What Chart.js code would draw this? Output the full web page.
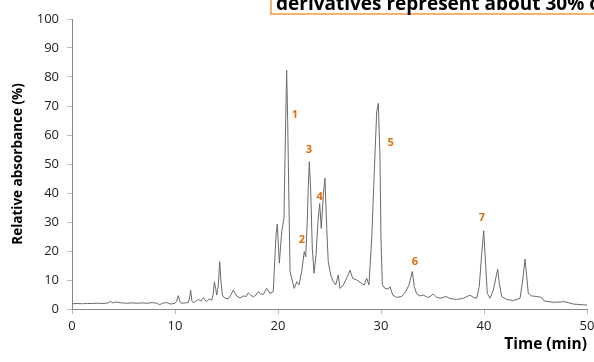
<!DOCTYPE html>
<html>
<head>
<meta charset="utf-8">
<script src="https://cdn.jsdelivr.net/npm/chart.js@4/dist/chart.umd.min.js"></script>
<style>
  html, body { margin: 0; padding: 0; background: #fff; }
  #wrap { width: 594px; height: 362px; position: relative; }
</style>
</head>
<body>
<div id="wrap"><canvas id="myChart"></canvas></div>
<script>
// Chromatogram data (time in min, relative absorbance in %)

const times = [
  0, 0.5, 1, 1.5, 2, 2.5, 3, 3.5, 3.75, 3.9, 4.3, 4.8, 5.3, 5.8, 6.3, 6.8,
  7.3, 7.8, 8.2, 8.5, 8.8, 9.2, 9.6, 10, 10.15, 10.32, 10.5, 10.65, 11, 11.3,
  11.45, 11.52, 11.65, 11.78, 12, 12.26, 12.52, 12.75, 13.07, 13.33, 13.56,
  13.7, 13.82, 13.95, 14.05, 14.2, 14.34, 14.45, 14.6, 14.85, 15.18, 15.45,
  15.66, 15.99, 16.31, 16.63, 16.9, 17.12, 17.35, 17.6, 17.85, 18.09, 18.3,
  18.57, 18.9, 19.22, 19.54, 19.71, 19.82, 19.93, 20.13, 20.36, 20.58, 20.72,
  20.84, 20.94, 21.04, 21.17, 21.33, 21.58, 21.82, 22.04, 22.3, 22.55, 22.69,
  22.84, 22.94, 23.04, 23.17, 23.33, 23.5, 23.69, 23.88, 24.05, 24.2, 24.4,
  24.56, 24.73, 24.88, 25.12, 25.37, 25.6, 25.85, 26.02, 26.34, 26.73, 26.99,
  27.25, 27.64, 28.13, 28.38, 28.61, 28.83, 29.1, 29.35, 29.58, 29.74, 29.9,
  30.0, 30.13, 30.39, 30.71, 30.87, 31.14, 31.52, 32.01, 32.4, 32.72, 33.04,
  33.23, 33.47, 33.79, 34.11, 34.5, 34.76, 35.08, 35.41, 35.8, 36.31, 36.7,
  37.35, 37.99, 38.64, 38.96, 39.29, 39.54, 39.78, 39.97, 40.17, 40.32, 40.58,
  40.9, 41.17, 41.33, 41.49, 41.72, 42.2, 42.84, 43.5, 43.76, 43.98, 44.15,
  44.3, 44.63, 45.12, 45.6, 45.83, 46.73, 47.86, 48.67, 49.8, 50,
];
const absorbance = [
  1.8, 1.9, 1.8, 1.9, 1.9, 2.0, 1.9, 2.1, 2.7, 2.1, 2.4, 2.1, 2.0, 2.1, 2.0, 2.1,
  2.0, 2.2, 2.0, 1.5, 2.0, 2.2, 1.7, 2.0, 2.6, 4.6, 2.3, 2.0, 2.1, 2.3,
  4.5, 6.5, 2.6, 2.2, 2.6, 3.3, 2.8, 3.9, 2.5, 3.5, 3.0,
  5.0, 9.4, 7.0, 4.8, 8.0, 16.3, 10.0, 4.8, 3.7, 3.5, 5.0,
  6.5, 4.5, 3.8, 4.5, 4.3, 5.6, 4.8, 4.2, 4.8, 6.0, 5.3,
  5.0, 7.1, 5.4, 6.0, 18.6, 26.0, 29.3, 15.8, 26.7, 31.3, 60.0,
  82.4, 65.0, 41.6, 12.9, 10.6, 7.1, 9.4, 8.3, 12.9, 19.8, 18.0,
  30.1, 42.0, 50.8, 41.6, 20.9, 12.3, 18.6, 30.1, 36.4, 27.8, 39.3,
  45.1, 27.8, 16.3, 11.7, 9.4, 8.3, 11.7, 7.1, 8.3, 11.1, 13.4,
  10.6, 10.0, 8.8, 8.3, 10.6, 8.3, 24.4, 47.4, 68.0, 70.9, 52.5,
  23.8, 8.3, 7.1, 6.9, 7.7, 4.8, 4.0, 4.3, 6.0, 8.3, 12.9,
  7.7, 5.2, 4.5, 4.8, 4.0, 4.3, 5.2, 4.0, 3.7, 4.3, 3.6,
  3.3, 3.7, 4.8, 4.0, 3.7, 7.7, 19.2, 27.0, 14.6, 5.4, 3.7,
  6.5, 11.1, 13.7, 8.8, 4.3, 3.3, 2.9, 3.7, 10.0, 17.2, 11.1,
  5.4, 4.5, 4.3, 4.0, 2.8, 2.3, 2.5, 1.7, 1.4, 1.4,
];

// Peak numbers and where they sit
const peakNames = ["1", "2", "3", "4", "5", "6", "7"];
const peakTimes = [21.65, 22.33, 23.0, 24.05, 30.94, 33.3, 39.8];
const peakLabelY = [66.9, 23.8, 54.8, 38.7, 57.2, 16.2, 31.5];

// Text box clipped at the top of the figure
const noteText = "derivatives represent about 30% of";

const points = times.map(function (t, i) {
  return { x: t, y: absorbance[i] };
});

const labelPlugin = {
  id: "peakLabels",
  afterDatasetsDraw(chart) {
    const ctx = chart.ctx;
    const xs = chart.scales.x;
    const ys = chart.scales.y;
    ctx.save();
    ctx.fillStyle = "#E46C0A";
    ctx.font = "bold 11px 'Open Sans'";
    ctx.textAlign = "center";
    ctx.textBaseline = "middle";
    for (let i = 0; i < peakNames.length; i++) {
      ctx.fillText(peakNames[i], xs.getPixelForValue(peakTimes[i]), ys.getPixelForValue(peakLabelY[i]));
    }
    ctx.restore();
  },
  afterDraw(chart) {
    const ctx = chart.ctx;
    ctx.save();
    ctx.fillStyle = "#fff";
    ctx.strokeStyle = "#F79646";
    ctx.lineWidth = 1.5;
    ctx.fillRect(271, -20, 340, 34);
    ctx.strokeRect(271, -20, 340, 34);
    ctx.fillStyle = "#000";
    ctx.font = "bold 19px 'Open Sans'";
    ctx.textBaseline = "alphabetic";
    ctx.fillText(noteText, 276, 10);
    ctx.restore();
  },
};

new Chart(document.getElementById("myChart"), {
  type: "line",
  data: {
    datasets: [
      {
        label: "Absorbance",
        data: points,
        borderColor: "#6a6a6a",
        borderWidth: 1,
        pointRadius: 0,
        tension: 0,
        fill: false,
      },
    ],
  },
  options: {
    responsive: true,
    maintainAspectRatio: false,
    animation: false,
    events: [],
    layout: { padding: { top: 19, right: 7, left: 10, bottom: 8 } },
    plugins: { legend: { display: false }, tooltip: { enabled: false } },
    scales: {
      x: {
        type: "linear",
        min: 0,
        max: 50,
        afterFit(scale) {
          scale.height = 45;
          scale.paddingLeft = 0;
          scale.paddingRight = 0;
        },
        ticks: {
          stepSize: 10,
          color: "#222",
          padding: 4,
          font: { family: "'Open Sans'", size: 13 },
        },
        grid: {
          drawOnChartArea: false,
          drawTicks: true,
          tickLength: 5,
          color: "#bbb",
        },
        border: { display: true, color: "#888" },
        title: {
          display: true,
          text: "Time (min)",
          align: "end",
          color: "#000",
          font: { family: "'Open Sans'", size: 15.5, weight: "bold" },
          padding: { top: 0, bottom: 0 },
        },
      },
      y: {
        min: 0,
        max: 100,
        afterFit(scale) {
          scale.width = 62;
        },
        ticks: {
          stepSize: 10,
          color: "#222",
          padding: 8,
          font: { family: "'Open Sans'", size: 13 },
        },
        grid: {
          drawOnChartArea: false,
          drawTicks: true,
          tickLength: 5,
          color: "#bbb",
        },
        border: { display: true, color: "#888" },
        title: {
          display: true,
          text: "Relative absorbance (%)",
          color: "#000",
          font: { family: "'Open Sans'", size: 13.5, weight: "bold" },
          padding: { top: 0, bottom: 0 },
        },
      },
    },
  },
  plugins: [labelPlugin],
});
</script>
</body>
</html>
